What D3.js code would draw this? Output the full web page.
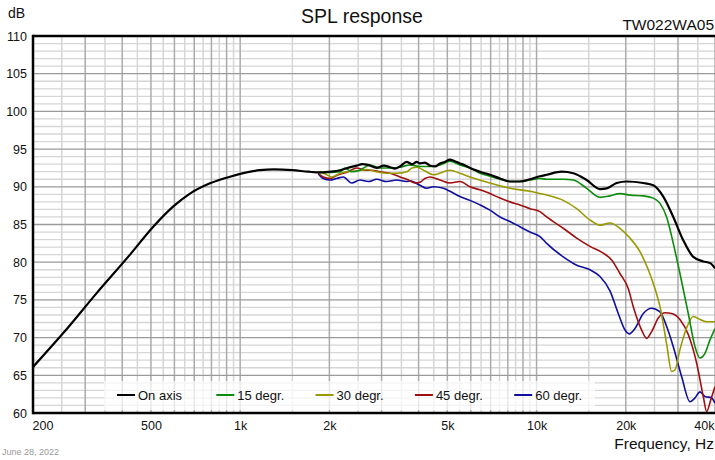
<!DOCTYPE html>
<html><head><meta charset="utf-8">
<script src="https://cdn.jsdelivr.net/npm/d3@7"></script>
<style>
html,body{margin:0;padding:0;background:#fff;overflow:hidden}
svg{display:block;font-family:"Liberation Sans",Arial,sans-serif}
</style></head><body>
<svg id="c" width="715" height="460"></svg>
<script>
const seriesNames = ["On axis","15 degr.","30 degr.","45 degr.","60 degr."];
const seriesColors = ["#000000","#0c8c0c","#9a9a00","#a00f0f","#0f0fa0"];
const xTickValues = [200,500,1000,2000,5000,10000,20000,40000];
const xTickLabels = ["200","500","1k","2k","5k","10k","20k","40k"];
const yTickValues = [60,65,70,75,80,85,90,95,100,105,110];

const onAxis = [[200,66.1],[253,70.6],[328,75.9],[425,81.0],[509,84.7],[595,87.4],[677,89.1],[791,90.46],[924,91.34],[1166,92.2],[1300,92.3],[1500,92.2],[1700,92.0],[1859,91.9],[2000,92.0],[2172,92.2],[2300,92.5],[2472,92.8],[2580,93.0],[2700,92.9],[2888,92.5],[3050,92.8],[3202,92.6],[3330,92.4],[3461,92.7],[3646,93.3],[3800,93.0],[3942,93.3],[4043,93.1],[4200,93.2],[4370,92.8],[4550,92.7],[4722,93.1],[4900,93.3],[5104,93.6],[5300,93.4],[5514,93.1],[5700,92.9],[5961,92.5],[6443,92.0],[6965,91.6],[7527,91.1],[8135,90.7],[8790,90.7],[9503,91.0],[10269,91.4],[10817,91.6],[12154,92.0],[13303,91.8],[14761,90.9],[16370,89.7],[17246,89.8],[18638,90.5],[20139,90.7],[22918,90.5],[24766,90.2],[26766,88.7],[28926,86.0],[31264,82.9],[33787,80.7],[36514,80.1],[38473,79.9],[40000,79.2]];

const deg15 = [[1835,91.9],[2009,91.9],[2172,92.0],[2258,92.5],[2378,92.0],[2536,92.2],[2742,92.9],[2964,92.5],[3202,92.5],[3461,92.6],[3740,92.9],[4043,92.7],[4370,92.7],[4722,92.9],[5104,93.4],[5514,92.9],[5961,92.5],[6443,91.8],[6965,91.4],[7527,91.0],[8135,90.7],[8790,90.7],[9503,90.9],[10269,91.1],[10817,91.0],[12304,91.0],[13303,90.9],[14761,89.8],[16370,88.6],[17688,88.8],[19112,89.1],[20660,88.9],[22918,88.8],[24766,88.5],[26097,87.8],[27462,86.0],[28926,82.5],[30466,78.5],[32501,73.2],[34240,68.8],[35586,67.3],[37000,67.9],[38473,69.7],[40000,71.2]];

const deg30 = [[1835,91.8],[1859,92.0],[1958,91.6],[2036,91.3],[2172,91.8],[2288,92.0],[2472,92.1],[2672,92.3],[2888,92.0],[3122,91.8],[3374,91.8],[3646,92.0],[3800,92.5],[3942,92.6],[4200,92.1],[4483,91.6],[5104,92.2],[5514,91.8],[5961,91.3],[6965,90.5],[8135,89.8],[9503,89.4],[10269,89.1],[10817,88.9],[12304,88.2],[13658,87.1],[15140,85.6],[16370,84.9],[17688,85.2],[19112,84.5],[20660,83.2],[22333,81.4],[23825,79.0],[25092,76.5],[26097,74.1],[27462,69.2],[28563,65.5],[29310,65.7],[30466,68.4],[32098,71.3],[33787,72.8],[35586,72.4],[37488,72.1],[40000,72.1]];

const deg45 = [[1835,91.8],[1907,91.3],[2009,91.1],[2144,91.6],[2316,92.0],[2472,92.5],[2638,92.2],[2778,92.2],[2964,92.0],[3202,91.8],[3461,91.3],[3692,90.9],[3890,90.5],[4043,90.6],[4202,91.1],[4370,91.3],[4722,90.9],[5104,90.5],[5514,90.7],[5961,90.0],[6443,89.6],[6965,89.1],[7527,88.5],[8135,88.0],[8790,87.6],[9503,87.1],[10269,86.7],[10817,86.0],[12304,84.5],[13658,83.2],[15140,82.1],[16796,81.2],[17921,80.3],[19112,78.5],[20387,76.5],[21199,74.1],[22627,71.0],[23520,69.9],[24459,70.8],[25747,72.6],[27126,73.3],[28563,73.2],[30466,72.4],[32501,70.4],[34692,66.6],[36514,62.2],[37488,60.2],[38674,61.7],[40000,63.5]];

const deg60 = [[1835,91.7],[1907,91.1],[2009,90.9],[2117,91.1],[2228,91.3],[2378,90.5],[2536,90.9],[2706,90.7],[2888,91.0],[3122,90.7],[3374,90.9],[3646,90.7],[3740,90.8],[4043,90.2],[4258,89.8],[4483,90.0],[4846,89.8],[5104,89.4],[5514,88.7],[5961,88.2],[6443,87.6],[6965,86.9],[7527,86.0],[8135,85.4],[8790,84.7],[9503,84.0],[10269,83.4],[10817,82.5],[12304,80.7],[13658,79.6],[15140,79.0],[16370,78.1],[17688,76.2],[18868,73.2],[19876,71.0],[20545,70.5],[21476,71.2],[22918,73.2],[24459,73.9],[26097,73.4],[27462,71.5],[28926,68.8],[30878,64.8],[32938,61.5],[34240,62.0],[35586,62.8],[37000,62.2],[38980,62.0],[40000,61.3]];

const allSeries = [onAxis, deg15, deg30, deg45, deg60];

const L = 33, R = 715, T = 36, B = 413;
const x = d3.scaleLog().domain([200, 40000]).range([L, R]);
const y = d3.scaleLinear().domain([60, 110]).range([B, T]);
const svg = d3.select("#c");

// grid
const gridG = svg.append("g");
const minorY = d3.range(60, 111, 1).filter(v => v % 5 !== 0);
gridG.selectAll("line.hmin").data(minorY).join("line")
  .attr("x1", L).attr("x2", R).attr("y1", d => y(d)).attr("y2", d => y(d))
  .attr("stroke", "#d6d6d6").attr("stroke-width", 1.3);
const majorV = [], minorV = [];
[100, 1000, 10000].forEach(dec => {
  for (let k = 1; k <= 9; k++) {
    const f = k * dec; if (f > 200 && f <= 40000) majorV.push(f);
    const h = (k + 0.5) * dec; if (h > 200 && h < 40000) minorV.push(h);
  }
});
gridG.selectAll("line.vmin").data(minorV).join("line")
  .attr("x1", d => x(d)).attr("x2", d => x(d)).attr("y1", T).attr("y2", B)
  .attr("stroke", "#d6d6d6").attr("stroke-width", 1.5);
gridG.selectAll("line.vmaj").data(majorV).join("line")
  .attr("x1", d => x(d)).attr("x2", d => x(d)).attr("y1", T).attr("y2", B)
  .attr("stroke", "#ababab").attr("stroke-width", 1.5);
gridG.selectAll("line.hmaj").data(yTickValues).join("line")
  .attr("x1", L).attr("x2", R).attr("y1", d => y(d)).attr("y2", d => y(d))
  .attr("stroke", "#9a9a9a").attr("stroke-width", 1.3);

// curves
svg.append("clipPath").attr("id", "clip").append("rect")
  .attr("x", L).attr("y", T).attr("width", R - L).attr("height", B - T);
const line = d3.line().x(d => x(d[0])).y(d => y(d[1])).curve(d3.curveMonotoneX);
const cg = svg.append("g").attr("clip-path", "url(#clip)");
[4,3,2,1,0].forEach(i => {
  cg.append("path").datum(allSeries[i]).attr("d", line)
    .attr("fill", "none").attr("stroke", seriesColors[i])
    .attr("stroke-width", i === 0 ? 2.2 : 1.6).attr("stroke-linejoin", "round");
});

// legend
const lg = svg.append("g");
lg.append("rect").attr("x", 104).attr("y", 381).attr("width", 491).attr("height", 29)
  .attr("fill", "#fff").attr("opacity", 0.72);
seriesNames.forEach((n, i) => {
  const x0 = 117 + i * 99.3;
  lg.append("line").attr("x1", x0).attr("x2", x0 + 18).attr("y1", 395).attr("y2", 395)
    .attr("stroke", seriesColors[i]).attr("stroke-width", 2);
  lg.append("text").attr("x", x0 + 21).attr("y", 399.5).attr("font-size", 13)
    .attr("fill", "#111").text(n);
});

// frame
svg.append("line").attr("x1", L).attr("x2", L).attr("y1", T - 1.2).attr("y2", B + 1.2).attr("stroke", "#000").attr("stroke-width", 2.5);
svg.append("line").attr("x1", L).attr("x2", R).attr("y1", T).attr("y2", T).attr("stroke", "#000").attr("stroke-width", 2.5);
svg.append("line").attr("x1", L).attr("x2", R).attr("y1", B).attr("y2", B).attr("stroke", "#000").attr("stroke-width", 2.5);

// axes labels
const yAxis = d3.axisLeft(y).tickValues(yTickValues).tickSize(0).tickPadding(6).tickFormat(d3.format("d"));
const ya = svg.append("g").attr("transform", `translate(${L},0)`).call(yAxis);
ya.select(".domain").remove();
ya.selectAll("text").attr("font-size", 12.5).attr("fill", "#111").attr("font-family", "Liberation Sans, Arial, sans-serif");

const xAxis = d3.axisBottom(x).tickValues(xTickValues).tickSize(0).tickPadding(8)
  .tickFormat((d, i) => xTickLabels[i]);
const xa = svg.append("g").attr("transform", `translate(0,${B})`).call(xAxis);
xa.select(".domain").remove();
xa.selectAll("text").attr("font-size", 12.5).attr("fill", "#111").attr("font-family", "Liberation Sans, Arial, sans-serif");
xa.selectAll(".tick").filter(d => d === 200).select("text").attr("text-anchor", "start").attr("dx", -1);
xa.selectAll(".tick").filter(d => d === 40000).select("text").attr("text-anchor", "end").attr("dx", -1);

// titles
svg.append("text").attr("x", 362).attr("y", 23).attr("text-anchor", "middle").attr("font-size", 19.5).attr("fill", "#111").text("SPL response");
svg.append("text").attr("x", 8).attr("y", 18).attr("font-size", 14).attr("fill", "#111").text("dB");
svg.append("text").attr("x", 714).attr("y", 30).attr("text-anchor", "end").attr("font-size", 15.5).attr("fill", "#111").text("TW022WA05");
svg.append("text").attr("x", 714).attr("y", 449).attr("text-anchor", "end").attr("font-size", 15.5).attr("fill", "#111").text("Frequency, Hz");
svg.append("text").attr("x", 2).attr("y", 455).attr("font-size", 9).attr("fill", "#999").text("June 28, 2022");
</script></body></html>
